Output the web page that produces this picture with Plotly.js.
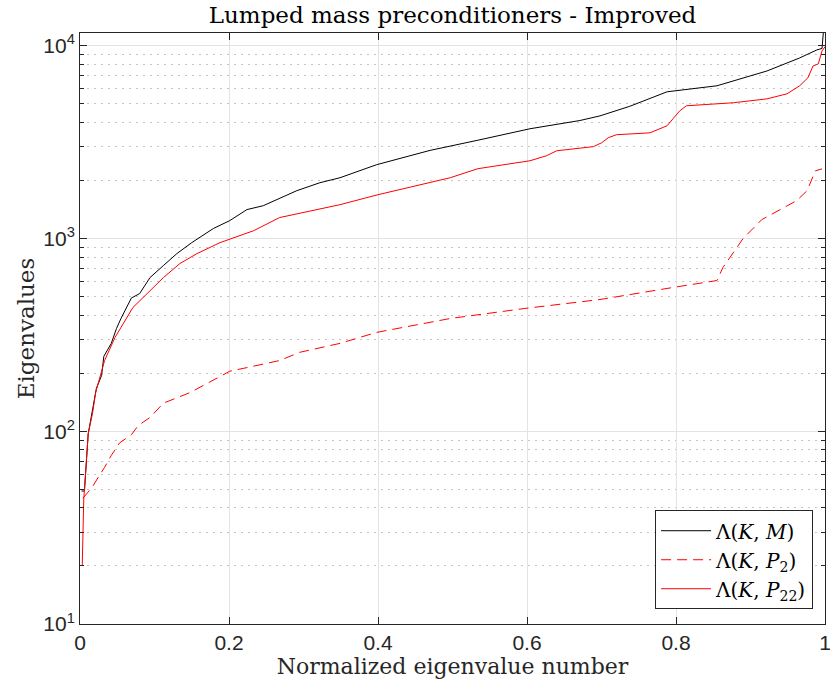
<!DOCTYPE html>
<html>
<head>
<meta charset="utf-8">
<script src="https://cdn.plot.ly/plotly-3.0.1.min.js"></script>
<style>
  html, body { margin: 0; padding: 0; background: #fff; }
  #chart { width: 830px; height: 693px; }
</style>
</head>
<body>
<div id="chart"></div>
<script>
// Lambda(K, M)
var xKM = [0.002, 0.006, 0.011, 0.017, 0.022, 0.029, 0.032, 0.042, 0.049, 0.055, 0.069, 0.080, 0.094, 0.112,
           0.130, 0.150, 0.179, 0.201, 0.224, 0.246, 0.291, 0.322, 0.349, 0.398, 0.470, 0.534, 0.604, 0.671,
           0.698, 0.738, 0.788, 0.855, 0.922, 0.966, 0.989, 0.996, 1.0];
var yKM = [49, 49, 97, 128, 167, 195, 245, 286, 342, 385, 492, 518, 628, 725,
           836, 953, 1128, 1240, 1414, 1482, 1773, 1950, 2070, 2418, 2870, 3240, 3716, 4100,
           4335, 4860, 5780, 6210, 7410, 8660, 9530, 9700, 15000];

// Lambda(K, P2)
var xP2 = [0.004, 0.016, 0.026, 0.033, 0.042, 0.053, 0.069, 0.078, 0.094, 0.112, 0.148, 0.179, 0.201, 0.219,
           0.268, 0.295, 0.349, 0.398, 0.497, 0.597, 0.698, 0.795, 0.855, 0.863, 0.879, 0.890, 0.915, 0.944,
           0.962, 0.976, 0.982, 0.987, 0.996];
var yP2 = [45, 51, 59, 65, 75, 87, 96, 107, 118, 140, 159, 184, 205, 212,
           233, 257, 286, 326, 385, 434, 483, 557, 606, 708, 866, 1000, 1254, 1448,
           1574, 1773, 1995, 2248, 2300];

// Lambda(K, P22)
var xP22 = [0.003, 0.005, 0.011, 0.017, 0.021, 0.033, 0.047, 0.058, 0.071, 0.090, 0.112, 0.134, 0.157, 0.188,
            0.201, 0.233, 0.268, 0.313, 0.349, 0.400, 0.470, 0.497, 0.534, 0.604, 0.626, 0.640, 0.689, 0.700,
            0.709, 0.720, 0.765, 0.788, 0.796, 0.805, 0.814, 0.877, 0.922, 0.949, 0.966, 0.977, 0.984, 0.991,
            0.996, 1.0];
var yP22 = [20, 44, 97, 125, 159, 233, 307, 363, 439, 518, 628, 742, 836, 953,
            995, 1099, 1286, 1397, 1500, 1690, 1950, 2070, 2306, 2535, 2690, 2857, 3000, 3140,
            3337, 3460, 3540, 3850, 4190, 4600, 4890, 5070, 5310, 5640, 6210, 6830, 7870, 8070,
            9420, 9900];

var names = ['\u039B(<i>K</i>, <i>M</i>)', '\u039B(<i>K</i>, <i>P</i><sub>2</sub>)', '\u039B(<i>K</i>, <i>P</i><sub>22</sub>)'];

var xTicks = [0, 0.2, 0.4, 0.6, 0.8, 1];
var xTickText = ['0', '0.2', '0.4', '0.6', '0.8', '1'];
var yTicks = [10, 100, 1000, 10000];
var yTickText = ['10<sup>1</sup>', '10<sup>2</sup>', '10<sup>3</sup>', '10<sup>4</sup>'];

var data = [
  {x: xKM, y: yKM, name: names[0], type: 'scatter', mode: 'lines',
   line: {color: '#000000', width: 1}},
  {x: xP2, y: yP2, name: names[1], type: 'scatter', mode: 'lines',
   line: {color: '#ff0000', width: 1, dash: '10px,6px'}},
  {x: xP22, y: yP22, name: names[2], type: 'scatter', mode: 'lines',
   line: {color: '#ff0000', width: 1}}
];

var serif = 'DejaVu Serif, Liberation Serif, serif';
var sans = 'Liberation Sans, Arial, sans-serif';

var layout = {
  width: 830, height: 693,
  margin: {l: 80, r: 5, t: 33, b: 69},
  paper_bgcolor: '#fff', plot_bgcolor: '#fff',
  showlegend: true,
  title: {text: 'Lumped mass preconditioners - Improved', font: {family: serif, size: 23, color: '#000'},
          xref: 'paper', x: 0.5, xanchor: 'center', y: 0.99, yanchor: 'top'},
  xaxis: {
    range: [0, 1], tickmode: 'array', tickvals: xTicks, ticktext: xTickText,
    ticklabeloverflow: 'allow',
    ticks: 'inside', ticklen: 7, tickcolor: '#262626',
    showline: true, linecolor: '#262626', linewidth: 1, mirror: 'ticks',
    showgrid: true, gridcolor: '#e3e3e3', gridwidth: 1, zeroline: false,
    tickfont: {family: sans, size: 21, color: '#262626'},
    title: {text: 'Normalized eigenvalue number', font: {family: serif, size: 22, color: '#262626'}, standoff: 4}
  },
  yaxis: {
    type: 'log', range: [1, 4.067], tickmode: 'array', tickvals: yTicks, ticktext: yTickText,
    ticks: 'inside', ticklen: 7, tickcolor: '#262626',
    showline: true, linecolor: '#262626', linewidth: 1, mirror: 'ticks',
    showgrid: true, gridcolor: '#e3e3e3', gridwidth: 1, zeroline: false,
    tickfont: {family: sans, size: 21, color: '#262626'},
    minor: {dtick: 'D1', ticks: 'inside', ticklen: 4, tickcolor: '#262626',
            showgrid: true, gridcolor: '#c4c4c4', gridwidth: 1, griddash: '2px,5px'},
    title: {text: 'Eigenvalues', font: {family: serif, size: 23, color: '#262626'}, standoff: 2}
  },
  legend: {
    x: 0.984, xanchor: 'right', y: 0.025, yanchor: 'bottom',
    bgcolor: '#ffffff', bordercolor: '#262626', borderwidth: 1,
    font: {family: serif, size: 20, color: '#000'},
    tracegroupgap: 0, itemwidth: 50
  }
};

Plotly.newPlot('chart', data, layout, {displayModeBar: false, staticPlot: true});
</script>
</body>
</html>
